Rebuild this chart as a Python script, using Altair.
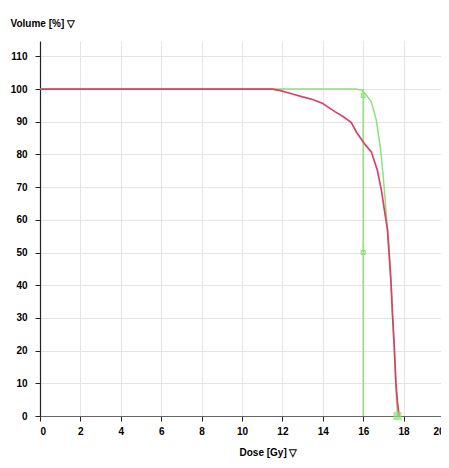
import altair as alt
import pandas as pd

red_dose = [0, 11.5, 11.9, 12.5, 13.0, 13.5, 14.0, 14.6, 15.0, 15.4, 15.7, 16.1, 16.4, 16.7, 16.9, 17.05, 17.2, 17.37, 17.45, 17.54, 17.62, 17.7, 17.78]
red_vol = [100, 100, 99.5, 98.5, 97.6, 96.8, 95.6, 93.1, 91.6, 89.8, 86.5, 83.0, 80.8, 75.2, 69.1, 63, 57, 41.6, 31, 21.2, 10, 4, 0]

green_dose = [0, 15.6, 15.9, 16.1, 16.4, 16.65, 16.85, 16.95, 17.05, 17.15, 17.29, 17.4, 17.5, 17.58, 17.65, 17.7]
green_vol = [100, 100, 99.7, 98.6, 96.1, 90.5, 82, 76, 69, 61, 50.8, 38, 25, 14, 5, 0]

vline_dose = [16, 16]
vline_vol = [0, 100]

small_mark_dose = [16, 16]
small_mark_vol = [98, 50]
big_mark_dose = [17.7]
big_mark_vol = [0]

x_ticks = list(range(0, 21, 2))
y_ticks = list(range(0, 111, 10))

RED = "#d9406a"
GREEN = "#8ee07a"
FONT = "Liberation Sans"

red_df = pd.DataFrame({"dose": red_dose, "vol": red_vol})
green_df = pd.DataFrame({"dose": green_dose, "vol": green_vol})
vline_df = pd.DataFrame({"dose": vline_dose, "vol": vline_vol})
small_df = pd.DataFrame({"dose": small_mark_dose, "vol": small_mark_vol})
big_df = pd.DataFrame({"dose": big_mark_dose, "vol": big_mark_vol})

xs = alt.Scale(domain=[0, 20.0], nice=False, zero=False)
ys = alt.Scale(domain=[0, 114.7], nice=False, zero=False)

x_enc = alt.X("dose:Q", scale=xs, axis=alt.Axis(
    values=x_ticks, title="Dose [Gy] ▽", titleAnchor="start", titleAlign="right",
    titleX=257, titleY=39, titleBaseline="alphabetic", labelOverlap=False,
    tickSize=5, labelPadding=5, domainColor="#666666", tickColor="#222222",
    gridColor="#e4e4e4"))
y_enc = alt.Y("vol:Q", scale=ys, axis=alt.Axis(
    values=y_ticks, title="Volume [%] ▽", titleAngle=0, titleAlign="left",
    titleX=-30, titleY=-15, titleBaseline="alphabetic", labelOverlap=False,
    tickSize=5, labelPadding=8, domainColor="#222222", tickColor="#222222",
    gridColor="#e4e4e4"))

green_line = alt.Chart(green_df).mark_line(color=GREEN, strokeWidth=1.5).encode(x=x_enc, y=y_enc, order="dose:Q")
vline = alt.Chart(vline_df).mark_line(color=GREEN, strokeWidth=1.5).encode(x=x_enc, y=y_enc)
red_line = alt.Chart(red_df).mark_line(color=RED, strokeWidth=1.7).encode(x=x_enc, y=y_enc, order="dose:Q")
small_pts = alt.Chart(small_df).mark_square(color=GREEN, size=14, opacity=1, filled=False, strokeWidth=1.2).encode(x=x_enc, y=y_enc)
big_pts = alt.Chart(big_df).mark_square(color=GREEN, size=70, opacity=0.7, filled=True).encode(x=x_enc, y=y_enc)

chart = alt.layer(green_line, vline, red_line, small_pts, big_pts).properties(
    width=404, height=375,
    autosize=alt.AutoSizeParams(type="none"),
    padding={"left": 32, "top": 33, "right": -3, "bottom": 45},
    background="white",
).configure_view(stroke=None).configure_axis(
    labelFont=FONT, titleFont=FONT, labelFontSize=10, titleFontSize=10,
    labelFontWeight="bold", titleFontWeight="bold", labelColor="#000000", titleColor="#000000",
    gridWidth=1, domainWidth=1.2,
)

chart.save("out.html", embed_options={"renderer": "svg", "actions": False})
